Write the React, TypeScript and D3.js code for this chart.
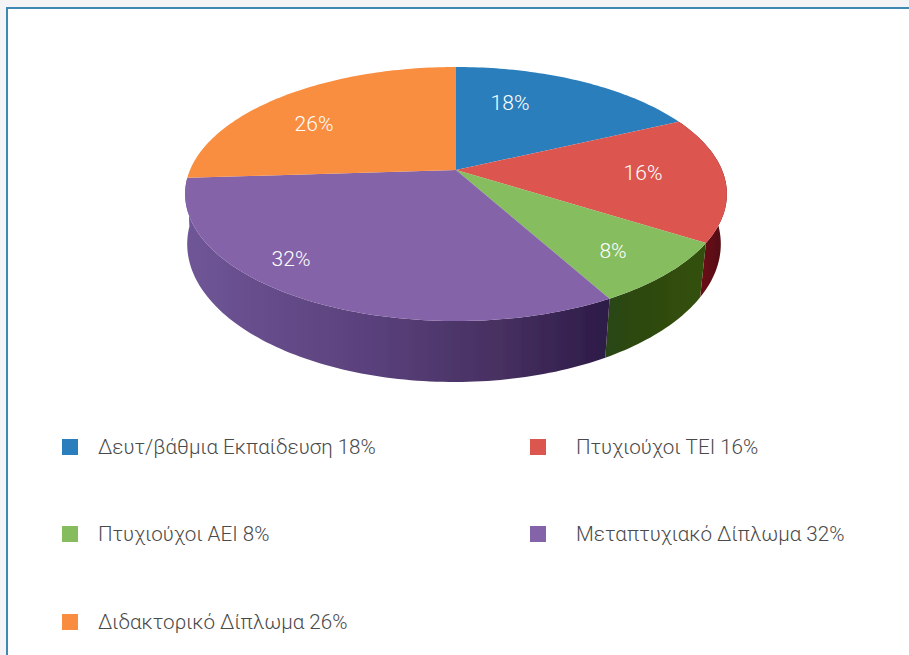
import React from "react";
import * as d3 from "d3";

const categories = [
  "Δευτ/βάθμια Εκπαίδευση",
  "Πτυχιούχοι ΤΕΙ",
  "Πτυχιούχοι ΑΕΙ",
  "Μεταπτυχιακό Δίπλωμα",
  "Διδακτορικό Δίπλωμα",
];
const shares = [18, 16, 8, 32, 26];
const topColors = ["#2a7ebc", "#dc5650", "#85bd5e", "#8563a8", "#f98d3f"];

const width = 909;
const height = 655;
const fontFamily = "Roboto, sans-serif";

// the pie is tilted, so the disc goes through a small perspective divide
const perspective = 0.189;
const topRim = { cx: 456, cy: 170, a: 266, b: 122.5 };
const bottomRim = { cx: 454, cy: 218, a: 262, b: 133 };

// slice label centres, same order as categories
const labelX = [510, 643, 613, 291, 314];
const labelY = [103, 173, 251, 259, 124];

const legendX = [62, 530, 62, 530, 62];
const legendY = [447, 447, 534, 534, 622];
const legendTextX = [98, 576, 98, 576, 98];

function rimPoint(rim: typeof topRim, angle: number): [number, number] {
  const u = Math.sin(angle);
  const v = -Math.cos(angle);
  const w = 1 - perspective * v;
  return [rim.cx + (rim.a * u) / w, rim.cy + (rim.b * v) / w];
}

function arcAngles(start: number, end: number) {
  const n = Math.max(2, Math.ceil((end - start) / 0.02));
  return d3.range(n + 1).map((i) => start + ((end - start) * i) / n);
}

export default function App() {
  const arcs = d3.pie<number>().sort(null)(shares);
  const line = d3.line();

  const topFace = (start: number, end: number) => {
    const pts = arcAngles(start, end).map((a) => rimPoint(topRim, a));
    return line([[topRim.cx, topRim.cy], ...pts]) + "Z";
  };
  const sideFace = (start: number, end: number) => {
    const angles = arcAngles(start, end);
    const top = angles.map((a) => rimPoint(topRim, a));
    const bottom = angles.map((a) => rimPoint(bottomRim, a)).reverse();
    return line([...top, ...bottom]) + "Z";
  };

  return (
    <svg
      width={width}
      height={height}
      viewBox={`0 0 ${width} ${height}`}
      style={{ position: "absolute", left: 0, top: 0, background: "#f4f4f6" }}
    >
      <defs>
        <linearGradient id="purpleSide" gradientUnits="userSpaceOnUse" x1={190} x2={606} y1={0} y2={0}>
          <stop offset="0" stopColor="#6f5596" />
          <stop offset="0.45" stopColor="#59407a" />
          <stop offset="0.75" stopColor="#463060" />
          <stop offset="1" stopColor="#2d1b48" />
        </linearGradient>
        <linearGradient id="greenSide" gradientUnits="userSpaceOnUse" x1={606} x2={700} y1={0} y2={0}>
          <stop offset="0" stopColor="#2b4512" />
          <stop offset="1" stopColor="#32500f" />
        </linearGradient>
        <linearGradient id="redSide" gradientUnits="userSpaceOnUse" x1={700} x2={726} y1={0} y2={0}>
          <stop offset="0" stopColor="#6d0f16" />
          <stop offset="1" stopColor="#4d0a12" />
        </linearGradient>
        <filter id="soft" x="-5%" y="-5%" width="110%" height="110%">
          <feGaussianBlur stdDeviation="0.6" />
        </filter>
      </defs>

      <rect x={7} y={8} width={width + 10} height={height + 10} fill="#fff" stroke="#3f88b2" strokeWidth={2} />

      <g filter="url(#soft)">
        {arcs.map((d, i) =>
          i >= 1 && i <= 3 ? (
            <path
              key={i}
              d={sideFace(d.startAngle, d.endAngle)}
              fill={["", "url(#redSide)", "url(#greenSide)", "url(#purpleSide)"][i]}
            />
          ) : null
        )}
        {arcs.map((d, i) => (
          <path key={i} d={topFace(d.startAngle, d.endAngle)} fill={topColors[i]} />
        ))}
      </g>

      {shares.map((s, i) => (
        <text
          key={i}
          x={labelX[i]}
          y={labelY[i]}
          textAnchor="middle"
          dominantBaseline="central"
          fontFamily={fontFamily}
          fontWeight={300}
          fontSize={21}
          fill="#fff"
        >
          {s}%
        </text>
      ))}

      {categories.map((c, i) => (
        <g key={c}>
          <rect x={legendX[i]} y={legendY[i] - 8} width={16} height={16} fill={topColors[i]} />
          <text
            x={legendTextX[i]}
            y={legendY[i]}
            dominantBaseline="central"
            fontFamily={fontFamily}
            fontWeight={300}
            fontSize={20.6}
            fill="#4a4a4a"
          >
            {c} {shares[i]}%
          </text>
        </g>
      ))}
    </svg>
  );
}
